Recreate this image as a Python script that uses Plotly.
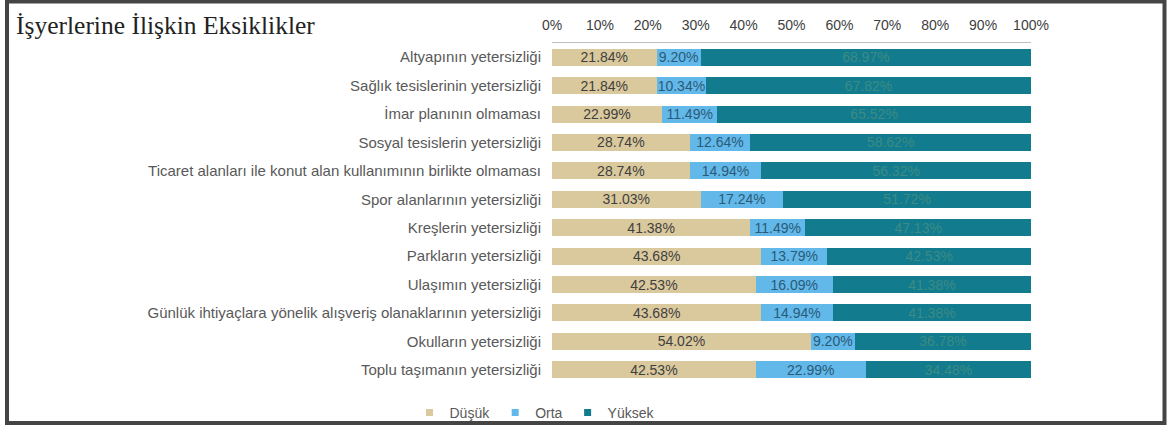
import plotly.graph_objects as go

categories = [
    "Altyapının yetersizliği",
    "Sağlık tesislerinin yetersizliği",
    "İmar planının olmaması",
    "Sosyal tesislerin yetersizliği",
    "Ticaret alanları ile konut alan kullanımının birlikte olmaması",
    "Spor alanlarının yetersizliği",
    "Kreşlerin yetersizliği",
    "Parkların yetersizliği",
    "Ulaşımın yetersizliği",
    "Günlük ihtiyaçlara yönelik alışveriş olanaklarının yetersizliği",
    "Okulların yetersizliği",
    "Toplu taşımanın yetersizliği",
]
dusuk = [21.84, 21.84, 22.99, 28.74, 28.74, 31.03, 41.38, 43.68, 42.53, 43.68, 54.02, 42.53]
orta = [9.20, 10.34, 11.49, 12.64, 14.94, 17.24, 11.49, 13.79, 16.09, 14.94, 9.20, 22.99]
yuksek = [68.97, 67.82, 65.52, 58.62, 56.32, 51.72, 47.13, 42.53, 41.38, 41.38, 36.78, 34.48]
tick_vals = [0, 10, 20, 30, 40, 50, 60, 70, 80, 90, 100]
tick_text = [f"{v}%" for v in tick_vals]

W, H = 1167, 428
L, R, T, B = 552, 136, 43, 44
pw, ph = W - L - R, H - T - B


def px_x(px):
    return (px - L) / pw


def px_y(py):
    return (H - B - py) / ph


series = [
    ("Düşük", dusuk, "#dac99d", "#3f3f3f"),
    ("Orta", orta, "#62b8e8", "#2b5a78"),
    ("Yüksek", yuksek, "#127b8d", "#3c8b86"),
]

fig = go.Figure()
for name, vals, color, tcolor in series:
    fig.add_trace(go.Bar(
        y=categories, x=vals, name=name, orientation="h",
        marker=dict(color=color, line=dict(width=0)),
        text=vals, texttemplate="%{x:.2f}%", textposition="inside",
        insidetextanchor="middle", showlegend=False,
        textfont=dict(family="Liberation Sans, Arial", size=14, color=tcolor),
        hovertemplate="%{y}: %{x:.2f}%<extra>" + name + "</extra>",
    ))
# compact legend entries with small square markers
for name, vals, color, tcolor in series:
    fig.add_trace(go.Scatter(
        x=[None], y=[None], mode="markers", name=name,
        marker=dict(symbol="square", size=7, color=color),
    ))

fig.update_layout(
    width=W, height=H,
    barmode="stack", bargap=0.4,
    margin=dict(l=L, r=R, t=T, b=B, autoexpand=False),
    paper_bgcolor="white", plot_bgcolor="white",
    font=dict(family="Liberation Sans, Arial", size=14, color="#595959"),
    uniformtext=dict(mode="show", minsize=12),
    xaxis=dict(
        range=[0, 100], side="top", tickvals=tick_vals, ticktext=tick_text,
        showgrid=False, zeroline=False, showline=True, linecolor="#bfbfbf",
        linewidth=1, ticks="", ticklabelstandoff=6,
        tickfont=dict(size=14, color="#404040"),
    ),
    yaxis=dict(
        categoryorder="array", categoryarray=categories[::-1],
        showgrid=False, zeroline=False, showline=False, ticks="",
        ticklabelstandoff=10, tickfont=dict(size=15, color="#595959"),
    ),
    legend=dict(
        orientation="h", x=px_x(535), xanchor="center", y=px_y(413), yanchor="middle",
        font=dict(size=14, color="#595959"), itemwidth=30, traceorder="normal",
        bgcolor="rgba(0,0,0,0)",
    ),
    showlegend=True,
)

fig.add_annotation(
    text="İşyerlerine İlişkin Eksiklikler", xref="paper", yref="paper",
    x=px_x(14), y=px_y(25), xanchor="left", yanchor="middle", showarrow=False,
    font=dict(family="Liberation Serif, Times New Roman", size=25.5, color="#222222"),
)

# scanned page frame
frame = dict(color="#444444", width=4)
fig.add_shape(type="rect", xref="paper", yref="paper",
              x0=px_x(7), x1=px_x(1164.5), y0=px_y(423), y1=px_y(1.5),
              line=frame, layer="above")

fig.write_html("out.html", config={"displayModeBar": False},
               post_script="document.body.style.margin='0';")
